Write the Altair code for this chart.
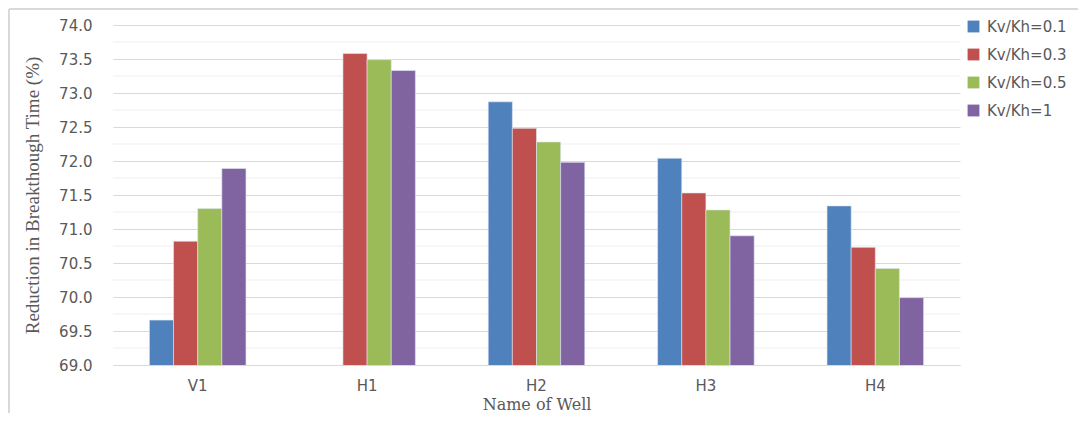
import altair as alt
import pandas as pd

wells = ["V1", "H1", "H2", "H3", "H4"]
series = ["Kv/Kh=0.1", "Kv/Kh=0.3", "Kv/Kh=0.5", "Kv/Kh=1"]
v_01 = [69.66, None, 72.87, 72.04, 71.34]
v_03 = [70.82, 73.58, 72.48, 71.53, 70.73]
v_05 = [71.30, 73.49, 72.28, 71.28, 70.42]
v_1 = [71.89, 73.33, 71.98, 70.90, 69.99]
major_ticks = [69.0, 69.5, 70.0, 70.5, 71.0, 71.5, 72.0, 72.5, 73.0, 73.5, 74.0]
minor_ticks = [69.25, 69.75, 70.25, 70.75, 71.25, 71.75, 72.25, 72.75, 73.25, 73.75]
colors = ["#4F81BD", "#C0504D", "#9BBB59", "#8064A2"]

rows = []
for s, vals in zip(series, [v_01, v_03, v_05, v_1]):
    for w, v in zip(wells, vals):
        if v is not None:
            rows.append({"Well": w, "Series": s, "Value": v})
df = pd.DataFrame(rows)
minor_df = pd.DataFrame({"Value": minor_ticks})

W, H = 847, 340
PAD = {"left": 105, "top": 17, "right": 118, "bottom": 48}

font = "DejaVu Sans"
serif = "Liberation Serif"
txt = "#595959"
yscale = alt.Scale(domain=[69, 74], nice=False, zero=False)
yaxis = alt.Axis(values=major_ticks, format=".1f", grid=True,
                 gridColor="#d9d9d9", gridWidth=1.2, ticks=False,
                 domain=False, labelFont=font, labelFontSize=15,
                 labelColor=txt, labelPadding=21,
                 title="Reduction in Breakthough Time (%)",
                 titleFont=serif, titleFontSize=19,
                 titleFontWeight="normal", titleColor=txt,
                 titlePadding=16)

# outer chart frame (left and top edges)
frame_top = alt.Chart(minor_df).mark_rule(color="#d9d9d9", strokeWidth=2).encode(
    x=alt.value(-PAD["left"] + 1), x2=alt.value(W + PAD["right"]),
    y=alt.value(-PAD["top"] + 1),
)
frame_left = alt.Chart(minor_df).mark_rule(color="#d9d9d9", strokeWidth=2).encode(
    x=alt.value(-PAD["left"] + 1),
    y=alt.value(-PAD["top"] + 1), y2=alt.value(H + PAD["bottom"]),
)

minor = alt.Chart(minor_df).mark_rule(color="#efefef", strokeWidth=1).encode(
    y=alt.Y("Value:Q", scale=yscale, axis=yaxis),
    x=alt.value(0), x2=alt.value(W),
)

bars = alt.Chart(df).mark_bar(stroke="#dfe6f0", strokeWidth=0.6, clip=True).encode(
    x=alt.X("Well:N", sort=wells,
            scale=alt.Scale(paddingInner=0.43, paddingOuter=0.215),
            axis=alt.Axis(title="Name of Well", labelAngle=0, ticks=False,
                          domain=True, domainColor="#d9d9d9", domainWidth=1.2,
                          labelFont=font, labelFontSize=15,
                          labelColor=txt, titleFont="DejaVu Serif",
                          titleFontSize=16,
                          titleFontWeight="normal", titleColor=txt,
                          labelPadding=13, titlePadding=3)),
    xOffset=alt.XOffset("Series:N", sort=series),
    y=alt.Y("Value:Q", scale=yscale, axis=yaxis),
    color=alt.Color("Series:N", sort=series,
                    scale=alt.Scale(domain=series, range=colors),
                    legend=alt.Legend(title=None, orient="none", legendX=853,
                                      legendY=-6, symbolType="square",
                                      symbolSize=140, symbolStrokeWidth=0,
                                      labelFont=font, labelFontSize=15,
                                      labelColor=txt, rowPadding=12,
                                      labelOffset=6)),
)

chart = alt.layer(minor, bars, frame_top, frame_left).properties(
    width=W, height=H,
    autosize=alt.AutoSizeParams(type="none"),
    padding=PAD,
).configure_view(stroke=None)

chart.save("out.html", embed_options={"renderer": "svg", "actions": False})
